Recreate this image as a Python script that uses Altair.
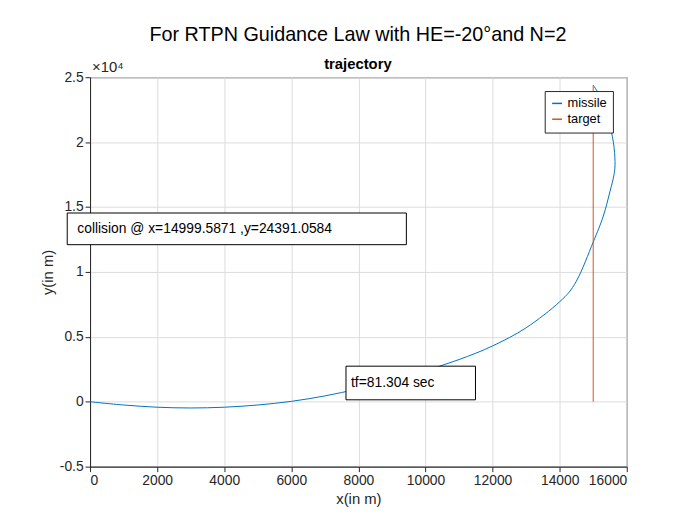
import altair as alt
import pandas as pd

# missile path
mx = [0, 1000, 2000, 3000, 4000, 5000, 6000, 7000, 8000, 9000, 10000, 11000,
      12000, 13000, 14000, 14500, 15000, 15300, 15500, 15620, 15650, 15600,
      15450, 15250, 15000]
my = [0, -250, -420, -480, -420, -250, 30, 450, 1000, 1650, 2400, 3250,
      4300, 5700, 7700, 9300, 12300, 14300, 16200, 17500, 18500, 20000,
      21800, 23300, 24391]
tx = [15000, 15000]
ty = [0, 24391]

miss = pd.DataFrame({"x": mx, "y": my, "i": range(len(mx)), "s": "missile"})
targ = pd.DataFrame({"x": tx, "y": ty, "i": range(len(tx)), "s": "target"})
df = pd.concat([miss, targ])

xs = alt.Scale(domain=[0, 16000], nice=False)
ys = alt.Scale(domain=[-5000, 25000], nice=False)

ax = dict(grid=True, gridColor="#dcdcdc", domainColor="#262626", tickColor="#262626",
          labelColor="#262626", labelFontSize=14, titleFontSize=15, titleFontWeight="normal",
          titleColor="#262626", labelOverlap=False, labelFont="Liberation Sans",
          titleFont="Liberation Sans", format="d")

lines = alt.Chart(df).mark_line(strokeWidth=1, interpolate="cardinal").encode(
    x=alt.X("x:Q", scale=xs, title="x(in m)", axis=alt.Axis(values=list(range(0, 16001, 2000)), **ax)),
    y=alt.Y("y:Q", scale=ys, title="y(in m)",
            axis=alt.Axis(values=list(range(-5000, 25001, 5000)),
                          labelExpr="datum.value/10000", **ax)),
    color=alt.Color("s:N", scale=alt.Scale(domain=["missile", "target"], range=["#0072bd", "#d95319"]),
                    legend=alt.Legend(title=None, orient="top-right", strokeColor="#262626",
                                      fillColor="white", symbolType="stroke", labelFontSize=13,
                                      padding=6, offset=14, cornerRadius=0, labelFont="Liberation Sans")),
    detail="s:N",
    order="i:Q",
)

boxes = pd.DataFrame({
    "x": [-680, 7630], "x2": [9430, 11490],
    "y": [12100, 150], "y2": [14540, 2740],
    "tx": [-380, 7780], "ty": [13300, 1450],
    "t": ["collision @ x=14999.5871 ,y=24391.0584", "tf=81.304 sec"],
})
rect = alt.Chart(boxes).mark_rect(fill="white", stroke="black", strokeWidth=1, clip=False).encode(
    x=alt.X("x:Q", scale=xs), x2="x2", y=alt.Y("y:Q", scale=ys), y2="y2")
txt = alt.Chart(boxes).mark_text(align="left", fontSize=14, font="Liberation Sans", clip=False).encode(
    x=alt.X("tx:Q", scale=xs), y=alt.Y("ty:Q", scale=ys), text="t:N")

sub = alt.Chart(pd.DataFrame({"t": ["trajectory"]})).mark_text(
    fontSize=15, fontWeight="bold", font="Liberation Sans").encode(x=alt.value(271), y=alt.value(-13), text="t:N")
main = alt.Chart(pd.DataFrame({"t": ["For RTPN Guidance Law with HE=-20°and N=2"]})).mark_text(
    fontSize=20, font="Liberation Sans").encode(x=alt.value(271), y=alt.value(-43), text="t:N")
exp = alt.Chart(pd.DataFrame({"t": ["×10⁴"]})).mark_text(
    fontSize=15, font="Liberation Sans", align="left", color="#262626").encode(
    x=alt.value(2), y=alt.value(-10), text="t:N")

chart = alt.layer(lines, rect, txt, main, sub, exp).properties(
    width=543, height=394, autosize="none",
    padding={"left": 83, "top": 67, "right": 66, "bottom": 56},
).configure_view(stroke="#262626")

chart.save("out.html", embed_options={"renderer": "svg", "actions": False})
